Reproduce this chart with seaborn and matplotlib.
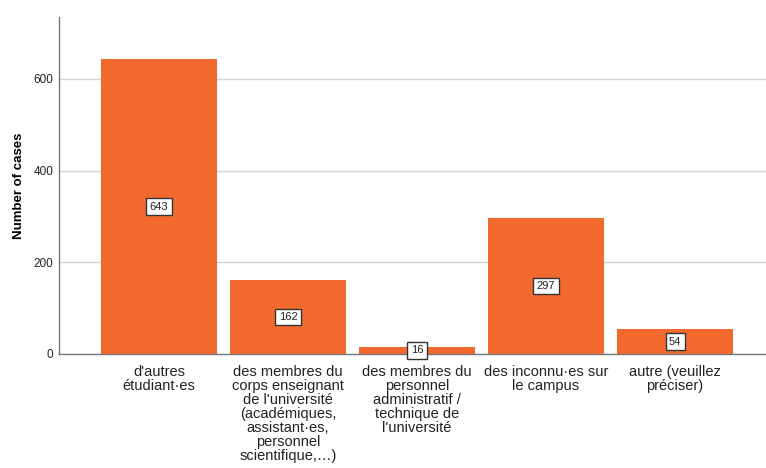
import matplotlib
matplotlib.use("Agg")
import matplotlib.pyplot as plt
import seaborn as sns
import pandas as pd

categories = [
    "d'autres\nétudiant·es",
    "des membres du\ncorps enseignant\nde l'université\n(académiques,\nassistant·es,\npersonnel\nscientifique,…)",
    "des membres du\npersonnel\nadministratif /\ntechnique de\nl'université",
    "des inconnu·es sur\nle campus",
    "autre (veuillez\npréciser)",
]
counts = [643, 162, 16, 297, 54]
y_ticks = [0, 200, 400, 600]

sns.set_theme(style="white")
plt.rcParams['font.family'] = ['Liberation Sans', 'DejaVu Sans']

df = pd.DataFrame({"cat": categories, "n": counts})

fig = plt.figure(figsize=(7.66, 4.68), dpi=100)
ax = fig.add_axes([0.077, 0.2436, 0.923, 0.7201])

sns.barplot(data=df, x="cat", y="n", color="#F26A2E", saturation=1,
            width=0.9, ax=ax, edgecolor="none")

ax.bar_label(ax.containers[0], labels=[str(c) for c in counts],
             label_type="center", fontsize=8, color="#222222",
             bbox=dict(boxstyle="square,pad=0.3", facecolor="white",
                       edgecolor="#333333", linewidth=1))

ax.set_ylim(0, 735)
ax.set_xlim(-0.775, 4.705)
ax.set_yticks(y_ticks)
ax.yaxis.grid(True, color="#D4D4D4", linewidth=1)
ax.set_axisbelow(True)
for s in ["top", "right"]:
    ax.spines[s].set_visible(False)
for s in ["left", "bottom"]:
    ax.spines[s].set_color("#777777")
    ax.spines[s].set_linewidth(1)

ax.tick_params(axis="both", length=0, labelsize=8.5, colors="#222222")
ax.tick_params(axis="x", pad=8, labelsize=10.5)
ax.tick_params(axis="y", pad=4)
ax.set_xlabel("")
ax.set_ylabel("Number of cases", fontsize=9.5, fontweight="bold",
              color="black", labelpad=6)
for lbl in ax.get_xticklabels():
    lbl.set_linespacing(1.0)

fig.savefig("out.png", dpi=100)
